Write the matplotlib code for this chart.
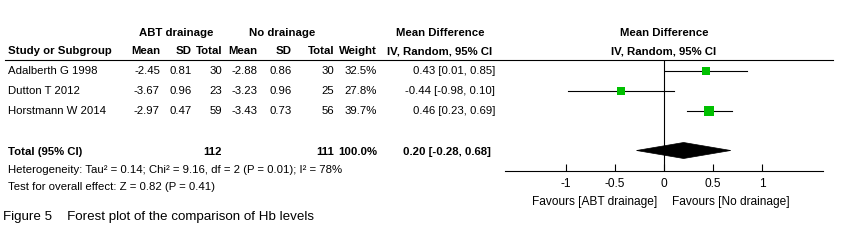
import matplotlib
matplotlib.use("Agg")
import matplotlib.pyplot as plt
from matplotlib.patches import Polygon
from matplotlib.lines import Line2D
import numpy as np

# ---- data ----
studies = ["Adalberth G 1998", "Dutton T 2012", "Horstmann W 2014"]
abt_mean = ["-2.45", "-3.67", "-2.97"]
abt_sd = ["0.81", "0.96", "0.47"]
abt_n = [30, 23, 59]
no_mean = ["-2.88", "-3.23", "-3.43"]
no_sd = ["0.86", "0.96", "0.73"]
no_n = [30, 25, 56]
weights = [32.5, 27.8, 39.7]
md = [0.43, -0.44, 0.46]
ci_lo = [0.01, -0.98, 0.23]
ci_hi = [0.85, 0.10, 0.69]

total_md, total_lo, total_hi = 0.20, -0.28, 0.68
heterogeneity = "Heterogeneity: Tau² = 0.14; Chi² = 9.16, df = 2 (P = 0.01); I² = 78%"
overall = "Test for overall effect: Z = 0.82 (P = 0.41)"
xticks = [-1, -0.5, 0, 0.5, 1]
xticklabels = ["-1", "-0.5", "0", "0.5", "1"]
caption = "Figure 5    Forest plot of the comparison of Hb levels"

# no Arial Narrow here, so a slightly smaller Liberation Sans stands in
plt.rcParams["font.family"] = ["Liberation Sans", "DejaVu Sans"]
FS = 8.2

fig = plt.figure(figsize=(8.47, 2.46), dpi=100)

# table layer in pixel coordinates
tab = fig.add_axes([0, 0, 1, 1])
tab.set_xlim(0, 847)
tab.set_ylim(246, 0)
tab.axis("off")

def txt(x, y, s, ha="right", bold=False, size=FS, **kw):
    tab.text(x, y, s, ha=ha, va="center", fontsize=size,
             fontweight="bold" if bold else "normal", **kw)

# column right edges (px)
cols = [160, 192, 222, 257, 292, 334, 377, 495]

# headers
txt(176, 33, "ABT drainage", ha="center", bold=True)
txt(282, 33, "No drainage", ha="center", bold=True)
txt(440, 33, "Mean Difference", ha="center", bold=True)
txt(664, 33, "Mean Difference", ha="center", bold=True)
txt(8, 51, "Study or Subgroup", ha="left", bold=True)
for x, h in zip(cols[:7], ["Mean", "SD", "Total", "Mean", "SD", "Total", "Weight"]):
    txt(x, 51, h, bold=True)
txt(440, 51, "IV, Random, 95% CI", ha="center", bold=True)
txt(664, 51, "IV, Random, 95% CI", ha="center", bold=True)
tab.add_line(Line2D([5, 833], [59.5, 59.5], color="black", lw=0.8))

row_y = [71, 91, 111]
for i, name in enumerate(studies):
    y = row_y[i]
    txt(8, y, name, ha="left")
    vals = [abt_mean[i], abt_sd[i], str(abt_n[i]), no_mean[i], no_sd[i],
            str(no_n[i]), f"{weights[i]:.1f}%",
            f"{md[i]:.2f} [{ci_lo[i]:.2f}, {ci_hi[i]:.2f}]"]
    for x, v in zip(cols, vals):
        txt(x, y, v)

# total row
txt(8, 152, "Total (95% CI)", ha="left", bold=True)
txt(cols[2], 152, str(sum(abt_n)), bold=True)
txt(cols[5], 152, str(sum(no_n)), bold=True)
txt(cols[6], 152, f"{sum(weights):.1f}%", bold=True)
txt(491, 152, f"{total_md:.2f} [{total_lo:.2f}, {total_hi:.2f}]", bold=True)
txt(8, 170, heterogeneity, ha="left")
txt(8, 187, overall, ha="left")
txt(3, 217, caption, ha="left", size=9.6)

# forest panel
ax = fig.add_axes([505 / 847, 1 - 170.5 / 246, 318 / 847, 111 / 246])
ax.patch.set_alpha(0)
ax.set_xlim(-1.62, 1.62)
ax.set_ylim(5, -0.55)
for s in ["top", "left", "right"]:
    ax.spines[s].set_visible(False)
ax.spines["bottom"].set_linewidth(0.8)
ax.set_yticks([])
ax.set_xticks(xticks)
ax.set_xticklabels(xticklabels)
ax.tick_params(axis="x", direction="in", length=5, width=0.8, pad=5.5, labelsize=FS + 0.4)
ax.axvline(0, color="black", lw=0.8)

for i in range(len(studies)):
    ax.plot([ci_lo[i], ci_hi[i]], [i, i], color="black", lw=0.8)
    ax.plot(md[i], i, marker="s", color="#00c000", markersize=np.sqrt(weights[i]) * 1.03,
            markeredgewidth=0)

h = 0.4
diamond = Polygon([(total_lo, 4), (total_md, 4 - h), (total_hi, 4), (total_md, 4 + h)],
                  closed=True, facecolor="black", edgecolor="black", lw=0.5)
ax.add_patch(diamond)

txt(657, 202, "Favours [ABT drainage]", size=FS + 0.4)
txt(672, 202, "Favours [No drainage]", ha="left", size=FS + 0.4)

fig.savefig("out.png", dpi=100)
